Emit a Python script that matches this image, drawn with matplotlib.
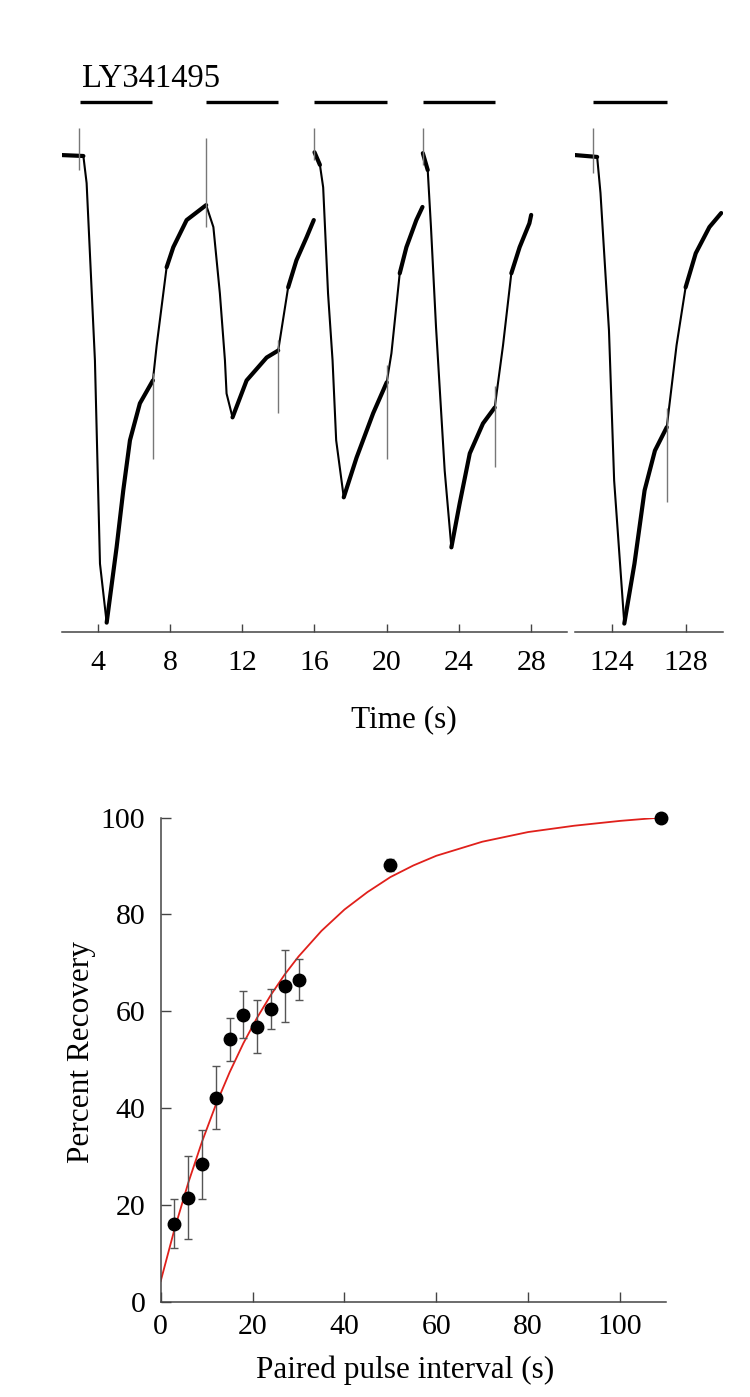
import numpy as np
import matplotlib
matplotlib.use('Agg')
import matplotlib.pyplot as plt

plt.rcParams['font.family'] = ['Liberation Serif', 'DejaVu Serif']

# --- top panel: current trace (normalised to peak, %)
sweep1_t = [2.0, 3.2, 3.38, 3.84, 4.12, 4.49, 5.04, 5.41, 5.78, 6.33, 7.05, 7.26,
            7.81, 8.18, 8.92, 10.0, 10.4, 10.76, 11.04, 11.13, 11.46, 12.24, 13.35,
            13.99, 14.54, 15.0, 15.56, 15.96]
sweep1_i = [0.0, -0.2, -6.0, -43.9, -87.4, -100.0, -83.9, -71.7, -61.0, -53.1, -48.2,
            -40.7, -24.0, -19.7, -13.9, -10.7, -15.4, -29.6, -43.9, -51.0, -56.1,
            -48.2, -43.3, -41.8, -28.3, -22.5, -17.6, -13.9]
sweep2_t = [16.0, 16.3, 16.48, 16.75, 17.0, 17.2, 17.62, 18.33, 19.25, 20.0, 20.26,
            20.72, 21.09, 21.64, 21.98]
sweep2_i = [0.6, -2.1, -6.9, -29.6, -43.9, -61.0, -73.2, -64.7, -55.2, -48.6, -42.4,
            -25.3, -19.7, -13.9, -11.1]
sweep3_t = [22.0, 22.27, 22.45, 22.73, 23.21, 23.58, 24.04, 24.6, 25.33, 25.98,
            26.44, 26.9, 27.36, 27.9, 28.0]
sweep3_i = [0.4, -3.2, -15.4, -36.8, -67.5, -83.9, -74.5, -63.8, -57.4, -54.0,
            -40.7, -25.3, -19.7, -14.6, -12.8]
sweep4_t = [122.0, 123.2, 123.38, 123.66, 123.84, 124.12, 124.67, 125.22, 125.77,
            126.33, 126.97, 127.5, 127.99, 128.54, 129.28, 129.92]
sweep4_i = [0.0, -0.4, -8.1, -26.1, -37.5, -69.6, -100.2, -87.4, -71.7, -63.2, -58.2,
            -40.7, -28.3, -21.0, -15.4, -12.4]

# stretches where the recording is visibly noisy (drawn thicker)
noisy_from = [2.0, 4.45, 7.8, 11.4, 14.5, 16.0, 17.6, 20.7, 22.0, 23.5, 26.9,
              122.0, 124.6, 127.9]
noisy_to = [3.2, 7.05, 10.0, 14.0, 15.96, 16.3, 20.0, 21.98, 22.27, 25.98, 28.0,
            123.2, 126.97, 129.92]

# solution exchange artefacts: time, low end, high end
artefact_t = [2.97, 7.05, 10.0, 14.0, 16.0, 20.0, 22.0, 26.0, 123.0, 127.0]
artefact_lo = [-3.2, -64.9, -15.4, -55.2, -1.0, -64.9, -2.1, -66.8, -3.9, -74.3]
artefact_hi = [5.8, -46.7, 3.6, -39.6, 5.8, -45.0, 5.8, -49.3, 5.8, -54.0]

# LY341495 application bars
drug_on = [3, 10, 16, 22, 123]
drug_off = [7, 14, 20, 26, 127]

left_ticks = [4, 8, 12, 16, 20, 24, 28]
right_ticks = [124, 128]

# --- bottom panel: paired pulse recovery
interval = [3, 6, 9, 12, 15, 18, 21, 24, 27, 30, 50, 109]
recovery = [16.2, 21.5, 28.4, 42.2, 54.2, 59.3, 56.8, 60.5, 65.2, 66.5, 90.2, 100.0]
recovery_err = [5.0, 8.6, 7.2, 6.5, 4.5, 4.8, 5.5, 4.2, 7.5, 4.2, 1.2, 0.0]

fit_x = [0, 3, 6, 9, 12, 15, 18, 21, 24, 27, 30, 35, 40, 45, 50, 55, 60, 70, 80,
         90, 100, 109]
fit_y = [4.3, 15.0, 24.6, 33.1, 40.7, 47.4, 53.4, 58.7, 63.4, 67.6, 71.3, 76.6, 81.0,
         84.6, 87.7, 90.1, 92.1, 95.0, 97.0, 98.3, 99.3, 100.0]

W, H = 750, 1397
fig = plt.figure(figsize=(7.5, 13.97), dpi=100)

axis_col = '#444444'
tick_fs = 21.5
label_fs = 22.5


def fx(px):
    return px / W


def fy(py):
    return 1 - py / H


#
# top panel, broken x axis
top_bot, top_top = 632, 89.6
ax_l = fig.add_axes([fx(61.7), fy(top_bot), fx(567.3 - 61.7), (top_bot - top_top) / H])
ax_r = fig.add_axes([fx(575), fy(top_bot), fx(722.7 - 575), (top_bot - top_top) / H])

bar_y = 11.35
for ax, lim, ticks in ((ax_l, (2, 30), left_ticks), (ax_r, (122, 130), right_ticks)):
    ax.set_xlim(*lim)
    ax.set_ylim(-102, 14)
    for s in ('top', 'right', 'left'):
        ax.spines[s].set_visible(False)
    ax.spines['bottom'].set_color(axis_col)
    ax.spines['bottom'].set_linewidth(1.1)
    ax.set_yticks([])
    ax.set_xticks(ticks)
    ax.tick_params(axis='x', direction='in', length=6, width=1.0, color=axis_col,
                   labelsize=tick_fs, pad=13)
    ax.patch.set_alpha(0)

sweeps = [(ax_l, sweep1_t, sweep1_i), (ax_l, sweep2_t, sweep2_i),
          (ax_l, sweep3_t, sweep3_i), (ax_r, sweep4_t, sweep4_i)]
for ax, t, i in sweeps:
    t = np.array(t)
    i = np.array(i)
    ax.plot(t, i, color='black', lw=1.5, solid_joinstyle='round')
    # thicker where the trace is noisy
    for a, b in zip(noisy_from, noisy_to):
        m = (t >= a - 1e-6) & (t <= b + 1e-6)
        if m.sum() > 1:
            ax.plot(t[m], i[m], color='black', lw=3.0, solid_capstyle='round',
                    solid_joinstyle='round')

for t, lo, hi in zip(artefact_t, artefact_lo, artefact_hi):
    ax = ax_r if t > 100 else ax_l
    ax.vlines(t, lo, hi, color='#777777', lw=1.0)

for on, off in zip(drug_on, drug_off):
    ax = ax_r if on > 100 else ax_l
    ax.hlines(bar_y, on, off, color='black', lw=2.4, clip_on=False)

fig.text(fx(81.7), fy(86.7), 'LY341495', fontsize=23.5, ha='left', va='baseline')
fig.text(fx(404), fy(727), 'Time (s)', fontsize=label_fs, ha='center', va='baseline')

#
# bottom panel
ax2 = fig.add_axes([fx(160.7), fy(1302), fx(666 - 160.7), (1302 - 817.5) / H])
ax2.set_xlim(0, 110)
ax2.set_ylim(0, 100)
for s in ('top', 'right'):
    ax2.spines[s].set_visible(False)
for s in ('bottom', 'left'):
    ax2.spines[s].set_color(axis_col)
    ax2.spines[s].set_linewidth(1.1)
ax2.set_xticks([0, 20, 40, 60, 80, 100])
ax2.set_yticks([0, 20, 40, 60, 80, 100])
ax2.tick_params(axis='x', direction='in', length=7, width=1.0, color=axis_col,
                labelsize=tick_fs, pad=9)
ax2.tick_params(axis='y', direction='in', length=7, width=1.0, color=axis_col,
                labelsize=tick_fs, pad=11)

ax2.plot(fit_x, fit_y, color='#e0201b', lw=1.3, zorder=2)
ax2.errorbar(interval, recovery, yerr=recovery_err, fmt='o', color='black',
             ms=9, ecolor='#555555', elinewidth=1.0, capsize=3, capthick=1.0,
             zorder=3, clip_on=False)

fig.text(fx(405), fy(1378), 'Paired pulse interval (s)', fontsize=label_fs,
         ha='center', va='baseline')
fig.text(fx(82), fy(1052), 'Percent Recovery', fontsize=label_fs, rotation=90,
         ha='center', va='center')

fig.savefig('out.png', dpi=100)
